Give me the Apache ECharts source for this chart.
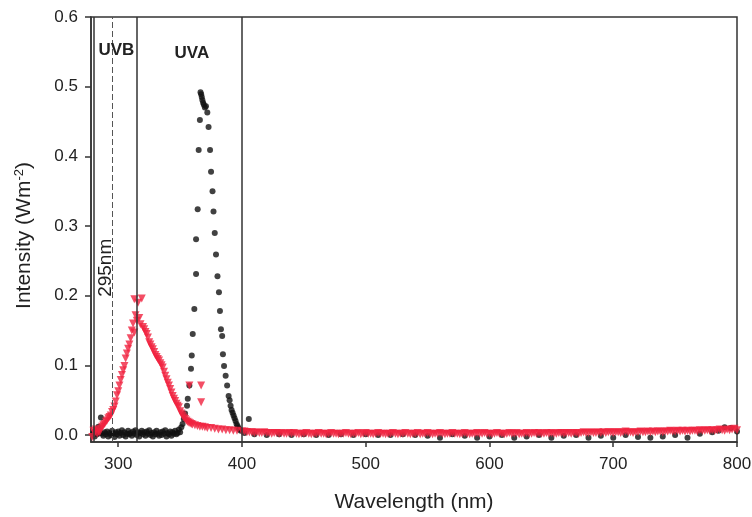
<!DOCTYPE html>
<html>
<head>
<meta charset="utf-8">
<script src="https://cdn.jsdelivr.net/npm/echarts@6/dist/echarts.min.js"></script>
<style>
  html, body { margin: 0; padding: 0; background: #ffffff; }
  #chart { width: 752px; height: 517px; }
</style>
</head>
<body>
<div id="chart"></div>
<script>
// Emission spectra of the two lamps (wavelength in nm, intensity in W m^-2)

// UVA lamp (black circles)
const uvaWavelength = [
  280, 281, 282, 283, 284, 285, 286, 287, 288, 289,
  290, 291, 292, 293, 294, 295, 296, 297, 298, 299,
  300, 301, 302, 303, 304, 305, 306, 307, 308, 309,
  310, 311, 312, 313, 314, 315, 316, 317, 318, 319,
  320, 321, 322, 323, 324, 325, 326, 327, 328, 329,
  330, 331, 332, 333, 334, 335, 336, 337, 338, 339,
  340, 341, 342, 343, 344, 345, 346, 347, 348, 349,
  350, 351, 352, 353, 354, 355.6, 356.2, 357.5, 358.8, 359.4,
  360.2, 361.5, 362.9, 362.9, 364.2, 365.0, 366.0, 366.5, 367.0, 367.5,
  368.0, 368.6, 369.2, 370.0, 370.9, 372.0, 373.0, 374.2, 375.0, 376.2,
  377.0, 378.0, 379.0, 380.2, 381.4, 382.2, 383.0, 384.0, 384.6, 385.5,
  386.8, 388.0, 389.2, 390.0, 390.8, 391.6, 392.4, 393.2, 394.0, 394.8,
  395.6, 396.4, 397.2, 398.0, 399.0, 402, 405.5, 410, 420, 430,
  440, 450, 460, 470, 480, 490, 500, 510, 520, 530,
  540, 550, 560, 570, 580, 590, 600, 610, 620, 630,
  640, 650, 660, 670, 680, 690, 700, 710, 720, 730,
  740, 750, 760, 770, 780, 785, 790, 795, 800
];
const uvaIntensity = [
  0.004, -0.002, 0.006, 0.001, 0.012, 0.003, 0.025, 0.002, -0.001, 0.004,
  0.001, 0.005, -0.002, 0.003, 0.000, 0.006, 0.002, -0.003, 0.004, 0.001,
  0.005, -0.001, 0.003, 0.007, 0.000, 0.004, -0.002, 0.002, 0.006, 0.001,
  0.003, -0.001, 0.005, 0.002, 0.007, 0.000, 0.004, -0.002, 0.003, 0.006,
  0.001, 0.004, -0.001, 0.005, 0.002, 0.007, 0.000, 0.003, -0.002, 0.004,
  0.001, 0.006, 0.002, -0.001, 0.004, 0.000, 0.005, 0.002, 0.007, -0.002,
  0.003, 0.001, 0.005, -0.001, 0.004, 0.002, 0.006, 0.001, 0.003, 0.008,
  0.004, 0.011, 0.016, 0.023, 0.031, 0.042, 0.052, 0.071, 0.095, 0.114,
  0.145, 0.181, 0.231, 0.281, 0.324, 0.409, 0.452, 0.492, 0.489, 0.485,
  0.481, 0.477, 0.474, 0.470, 0.472, 0.463, 0.442, 0.409, 0.378, 0.350,
  0.321, 0.290, 0.259, 0.228, 0.205, 0.178, 0.152, 0.142, 0.116, 0.099,
  0.085, 0.071, 0.056, 0.050, 0.042, 0.036, 0.032, 0.028, 0.024, 0.020,
  0.016, 0.013, 0.010, 0.008, 0.006, 0.003, 0.023, 0.001, 0.000, 0.001,
  0.000, 0.001, 0.000, 0.000, 0.001, 0.000, 0.001, 0.000, 0.000, 0.001,
  0.000, -0.001, -0.004, 0.001, -0.001, -0.004, -0.002, 0.000, -0.004, -0.002,
  0.000, -0.004, -0.001, 0.000, -0.004, -0.001, -0.004, 0.000, -0.003, -0.004,
  -0.002, 0.000, -0.004, 0.002, 0.004, 0.006, 0.011, 0.010, 0.005
];

// UVB lamp (red triangles), 279-396 nm
const uvbWavelength = [
  279, 280, 281, 282, 283, 284, 285, 286, 287, 288,
  289, 290, 291, 292, 293, 294, 295, 296, 297, 298,
  299, 300, 301, 302, 303, 304, 305, 306, 307, 308,
  309, 310, 311, 312, 313, 313, 314, 315, 316, 317,
  318, 319, 320, 321, 322, 323, 324, 325, 326, 327,
  328, 329, 330, 331, 332, 333, 334, 335, 336, 337,
  338, 339, 340, 341, 342, 343, 344, 345, 346, 347,
  348, 349, 350, 351, 352, 353, 354, 355, 356, 357,
  357.5, 358, 359, 360, 362, 364, 366, 367, 367, 368,
  370, 372, 375, 378, 381, 384, 387, 390, 393, 396
];
const uvbIntensity = [
  -0.003, 0.006, 0.003, 0.008, 0.002, 0.005, 0.004, 0.009, 0.012, 0.014,
  0.016, 0.019, 0.021, 0.024, 0.026, 0.028, 0.033, 0.036, 0.041, 0.048,
  0.057, 0.063, 0.071, 0.079, 0.086, 0.093, 0.099, 0.110, 0.117, 0.124,
  0.130, 0.139, 0.150, 0.160, 0.147, 0.195, 0.172, 0.164, 0.190, 0.168,
  0.159, 0.196, 0.155, 0.152, 0.148, 0.145, 0.140, 0.133, 0.130, 0.126,
  0.123, 0.119, 0.115, 0.112, 0.109, 0.107, 0.103, 0.100, 0.097, 0.091,
  0.085, 0.080, 0.075, 0.071, 0.066, 0.061, 0.056, 0.052, 0.049, 0.045,
  0.042, 0.040, 0.034, 0.031, 0.028, 0.025, 0.023, 0.021, 0.019, 0.018,
  0.071, 0.017, 0.016, 0.015, 0.014, 0.013, 0.012, 0.071, 0.047, 0.012,
  0.011, 0.010, 0.010, 0.009, 0.008, 0.008, 0.007, 0.007, 0.006, 0.006
];

// UVB lamp, visible/near-IR tail 400-800 nm
const uvbTailWavelength = [
  400, 402, 404, 406, 408, 410, 412, 414, 416, 418,
  420, 422, 424, 426, 428, 430, 432, 434, 436, 438,
  440, 442, 444, 446, 448, 450, 452, 454, 456, 458,
  460, 462, 464, 466, 468, 470, 472, 474, 476, 478,
  480, 482, 484, 486, 488, 490, 492, 494, 496, 498,
  500, 502, 504, 506, 508, 510, 512, 514, 516, 518,
  520, 522, 524, 526, 528, 530, 532, 534, 536, 538,
  540, 542, 544, 546, 548, 550, 552, 554, 556, 558,
  560, 562, 564, 566, 568, 570, 572, 574, 576, 578,
  580, 582, 584, 586, 588, 590, 592, 594, 596, 598,
  600, 602, 604, 606, 608, 610, 612, 614, 616, 618,
  620, 622, 624, 626, 628, 630, 632, 634, 636, 638,
  640, 642, 644, 646, 648, 650, 652, 654, 656, 658,
  660, 662, 664, 666, 668, 670, 672, 674, 676, 678,
  680, 682, 684, 686, 688, 690, 692, 694, 696, 698,
  700, 702, 704, 706, 708, 710, 712, 714, 716, 718,
  720, 722, 724, 726, 728, 730, 732, 734, 736, 738,
  740, 742, 744, 746, 748, 750, 752, 754, 756, 758,
  760, 762, 764, 766, 768, 770, 772, 774, 776, 778,
  780, 782, 784, 786, 788, 790, 792, 794, 796, 798,
  800
];
const uvbTailIntensity = [
  0.005, 0.005, 0.004, 0.004, 0.004, 0.003, 0.004, 0.003, 0.003, 0.004,
  0.003, 0.003, 0.002, 0.003, 0.003, 0.002, 0.003, 0.002, 0.002, 0.003,
  0.002, 0.003, 0.002, 0.001, 0.002, 0.002, 0.003, 0.002, 0.001, 0.002,
  0.002, 0.003, 0.002, 0.002, 0.001, 0.002, 0.003, 0.002, 0.002, 0.001,
  0.002, 0.002, 0.003, 0.002, 0.001, 0.002, 0.002, 0.003, 0.001, 0.002,
  0.003, 0.002, 0.002, 0.001, 0.002, 0.003, 0.002, 0.002, 0.001, 0.002,
  0.002, 0.003, 0.002, 0.001, 0.002, 0.002, 0.003, 0.002, 0.001, 0.002,
  0.002, 0.003, 0.001, 0.002, 0.002, 0.003, 0.002, 0.001, 0.002, 0.002,
  0.003, 0.002, 0.001, 0.002, 0.002, 0.003, 0.002, 0.002, 0.001, 0.002,
  0.003, 0.002, 0.001, 0.002, 0.002, 0.003, 0.002, 0.002, 0.003, 0.002,
  0.002, 0.001, 0.002, 0.003, 0.002, 0.002, 0.001, 0.002, 0.003, 0.002,
  0.002, 0.003, 0.001, 0.002, 0.002, 0.003, 0.002, 0.002, 0.003, 0.002,
  0.003, 0.002, 0.002, 0.003, 0.002, 0.003, 0.002, 0.002, 0.003, 0.003,
  0.002, 0.003, 0.003, 0.002, 0.003, 0.003, 0.002, 0.003, 0.004, 0.003,
  0.003, 0.004, 0.003, 0.003, 0.004, 0.003, 0.004, 0.003, 0.004, 0.004,
  0.003, 0.004, 0.004, 0.003, 0.004, 0.005, 0.004, 0.004, 0.003, 0.004,
  0.004, 0.005, 0.004, 0.004, 0.005, 0.004, 0.005, 0.004, 0.005, 0.005,
  0.004, 0.005, 0.005, 0.006, 0.005, 0.005, 0.006, 0.005, 0.006, 0.005,
  0.006, 0.005, 0.006, 0.006, 0.005, 0.007, 0.006, 0.006, 0.007, 0.006,
  0.007, 0.006, 0.007, 0.008, 0.007, 0.006, 0.008, 0.007, 0.008, 0.009,
  0.007
];

// Axis ticks and band boundaries
const xTicks = [300, 400, 500, 600, 700, 800];
const yTicks = [0.0, 0.1, 0.2, 0.3, 0.4, 0.5, 0.6];
const bandEdges = [280, 315, 400];
const cutoffWavelength = 295;

const pairs = (xs, ys) => xs.map((x, i) => [x, ys[i]]);
const FONT = '"Liberation Sans", Arial, sans-serif';
const INK = '#222222';
const LINE = '#333333';

const chart = echarts.init(document.getElementById('chart'), null, { renderer: 'canvas' });

chart.setOption({
  animation: false,
  backgroundColor: '#ffffff',
  grid: {
    left: 91, right: 15, top: 17, bottom: 75,
    outerBoundsMode: 'none',
    containLabel: false,
    show: true, borderColor: LINE, borderWidth: 1.5, backgroundColor: 'transparent'
  },
  xAxis: {
    type: 'value',
    min: 278, max: 800,
    name: 'Wavelength (nm)',
    nameLocation: 'middle',
    nameGap: 50,
    nameTextStyle: { fontFamily: FONT, fontSize: 21, color: INK },
    splitLine: { show: false },
    axisLine: { show: true, onZero: false, lineStyle: { color: LINE, width: 1.5 } },
    axisTick: { show: true, length: 5, customValues: xTicks, lineStyle: { color: LINE, width: 1.5 } },
    axisLabel: { customValues: xTicks, margin: 14, fontFamily: FONT, fontSize: 17, color: INK,
      formatter: v => String(v) }
  },
  yAxis: {
    type: 'value',
    min: -0.01, max: 0.6,
    name: 'Intensity (Wm{sup|-2})',
    nameLocation: 'middle',
    nameGap: 55,
    nameRotate: 90,
    nameTextStyle: {
      fontFamily: FONT, fontSize: 21, color: INK,
      padding: [0, 12, 0, 0],
      rich: { sup: { fontFamily: FONT, fontSize: 13, color: INK, padding: [0, 0, 10, 0] } }
    },
    splitLine: { show: false },
    axisLine: { show: true, onZero: false, lineStyle: { color: LINE, width: 1.5 } },
    axisTick: { show: true, length: 6, customValues: yTicks, lineStyle: { color: LINE, width: 1.5 } },
    axisLabel: { customValues: yTicks, margin: 13, fontFamily: FONT, fontSize: 17, color: INK,
      formatter: v => v.toFixed(1) }
  },
  series: [
    {
      name: 'UVA lamp',
      type: 'scatter',
      data: pairs(uvaWavelength, uvaIntensity),
      symbol: 'circle',
      symbolSize: 6,
      itemStyle: { color: '#111111' },
      z: 2,
      markLine: {
        silent: true,
        symbol: 'none',
        label: { show: false },
        lineStyle: { color: LINE, width: 1.5, type: 'solid' },
        data: bandEdges.map(x => ({ xAxis: x })).concat([
          { xAxis: cutoffWavelength, lineStyle: { color: '#555555', width: 1, type: [6, 3] } }
        ])
      }
    },
    {
      name: 'UVB lamp',
      type: 'scatter',
      data: pairs(uvbWavelength, uvbIntensity).concat(pairs(uvbTailWavelength, uvbTailIntensity)),
      symbol: 'triangle',
      symbolRotate: 180,
      symbolSize: 8,
      itemStyle: { color: '#f0223f' },
      z: 3
    }
  ]
});

// Band names and the cutoff annotation, placed in data coordinates
const toPx = (x, y) => chart.convertToPixel({ gridIndex: 0 }, [x, y]);
const pUVB = toPx(298.5, 0.552);
const pUVA = toPx(359.5, 0.548);
const pCut = toPx(cutoffWavelength, 0.24);

chart.setOption({
  graphic: [
    { type: 'text', x: pUVB[0], y: pUVB[1], z: 10,
      style: { text: 'UVB', font: 'bold 17px ' + FONT, fill: INK, align: 'center', verticalAlign: 'middle' } },
    { type: 'text', x: pUVA[0], y: pUVA[1], z: 10,
      style: { text: 'UVA', font: 'bold 17px ' + FONT, fill: INK, align: 'center', verticalAlign: 'middle' } },
    { type: 'text', x: pCut[0] - 6, y: pCut[1], rotation: Math.PI / 2, z: 10,
      style: { text: cutoffWavelength + 'nm', font: '19px ' + FONT, fill: INK, align: 'center', verticalAlign: 'middle' } }
  ]
});
</script>
</body>
</html>
